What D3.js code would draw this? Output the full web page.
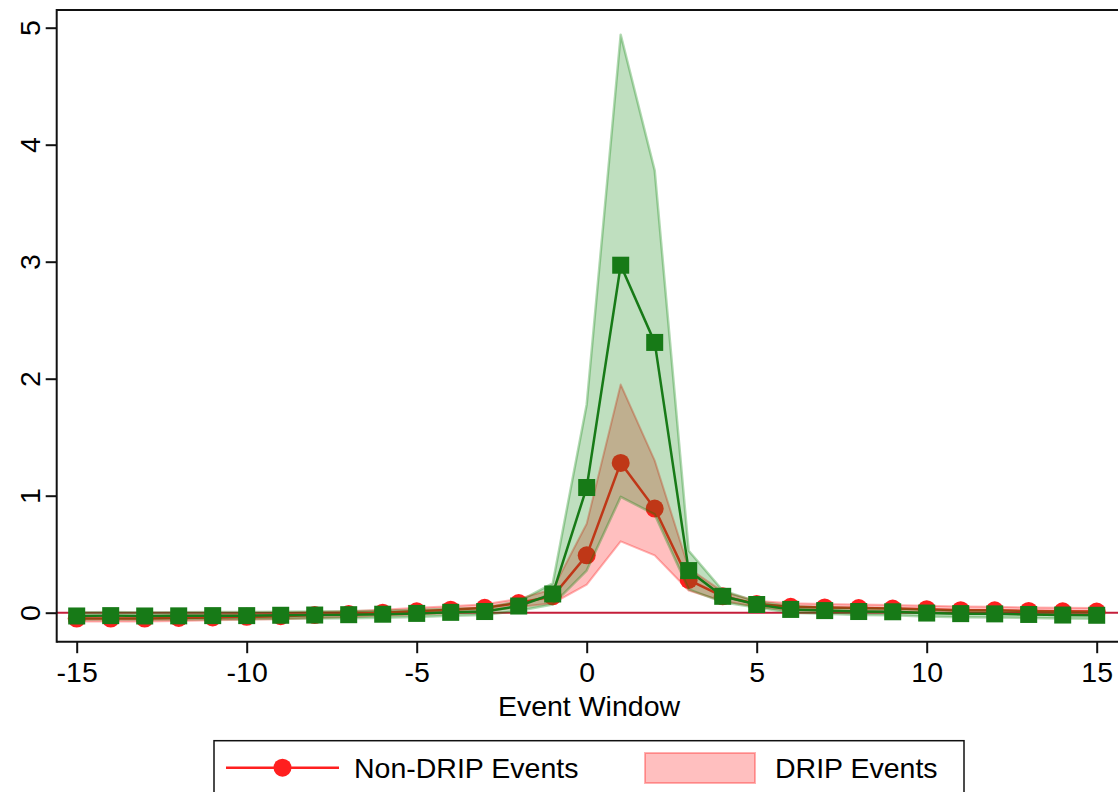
<!DOCTYPE html>
<html>
<head>
<meta charset="utf-8">
<script src="https://cdn.jsdelivr.net/npm/d3@7"></script>
<style>
  html, body { margin: 0; padding: 0; background: #fff; }
  svg { display: block; font-family: "Liberation Sans", Arial, Helvetica, sans-serif; }
</style>
</head>
<body>
<svg id="chart" width="1118" height="792"></svg>
<script>
// ---- data ----
const eventWindow = d3.range(-15, 16);
const nonDripValue = [-0.05,-0.05,-0.05,-0.045,-0.04,-0.035,-0.03,-0.02,-0.012,0.0,0.012,0.026,0.042,0.083,0.14,0.49,1.28,0.89,0.28,0.14,0.075,0.05,0.045,0.04,0.035,0.03,0.022,0.02,0.015,0.012,0.01];
const nonDripLow   = [-0.075,-0.075,-0.075,-0.07,-0.065,-0.06,-0.055,-0.045,-0.037,-0.025,-0.018,-0.004,0.012,0.048,0.08,0.24,0.61,0.49,0.19,0.10,0.05,0.02,0.015,0.01,0.005,0.0,-0.008,-0.01,-0.015,-0.018,-0.02];
const nonDripHigh  = [-0.025,-0.025,-0.025,-0.02,-0.015,-0.01,-0.005,0.005,0.013,0.025,0.042,0.056,0.072,0.118,0.20,0.76,1.95,1.30,0.38,0.18,0.10,0.08,0.075,0.07,0.065,0.06,0.052,0.05,0.045,0.042,0.04];
const dripValue = [-0.028,-0.025,-0.028,-0.027,-0.025,-0.025,-0.022,-0.02,-0.017,-0.013,-0.006,0.003,0.01,0.057,0.16,1.07,2.97,2.31,0.36,0.14,0.07,0.028,0.018,0.01,0.008,-0.003,-0.008,-0.01,-0.015,-0.02,-0.022];
const dripLow   = [-0.058,-0.055,-0.058,-0.057,-0.055,-0.055,-0.052,-0.05,-0.047,-0.043,-0.036,-0.027,-0.02,0.017,0.07,0.36,0.99,0.84,0.20,0.09,0.045,0.0,-0.01,-0.02,-0.022,-0.033,-0.038,-0.04,-0.045,-0.05,-0.052];
const dripHigh  = [0.002,0.005,0.002,0.003,0.005,0.005,0.008,0.01,0.013,0.017,0.024,0.033,0.04,0.097,0.25,1.78,4.94,3.78,0.53,0.19,0.095,0.056,0.046,0.04,0.038,0.027,0.022,0.02,0.015,0.01,0.008];
const xTicks = [-15, -10, -5, 0, 5, 10, 15];
const yTicks = [0, 1, 2, 3, 4, 5];
const xTitle = "Event Window";
const legendLabels = ["Non-DRIP Events", "DRIP Events"];

// ---- build ----
const svg = d3.select("#chart");
const x = d3.scaleLinear().domain([-15, 15]).range([76.7, 1096.7]);
const y = d3.scaleLinear().domain([0, 5]).range([612.7, 27.7]);
const axisY = 641.7, axisX = 56.7;
const fontSize = 28.5;

const red = "#ff1f1f";
const green = "#177a17";
const axisColor = "#111";

const rows = eventWindow.map((e, i) => ({
  e, nv: nonDripValue[i], nl: nonDripLow[i], nh: nonDripHigh[i],
  dv: dripValue[i], dl: dripLow[i], dh: dripHigh[i]
}));

// top frame line
svg.append("line").attr("x1", axisX).attr("x2", 1118).attr("y1", 10).attr("y2", 10)
  .attr("stroke", axisColor).attr("stroke-width", 2);

// zero reference line
svg.append("line").attr("x1", axisX).attr("x2", 1118).attr("y1", y(0)).attr("y2", y(0))
  .attr("stroke", "#c41e3a").attr("stroke-width", 2);

// red band
const redArea = d3.area().x(d => x(d.e)).y0(d => y(d.nl)).y1(d => y(d.nh));
svg.append("path").datum(rows).attr("d", redArea)
  .attr("fill", "rgba(255,0,0,0.25)")
  .attr("stroke", "rgba(255,0,0,0.3)").attr("stroke-width", 2).attr("stroke-linejoin", "round");

// red line & markers
svg.append("path").datum(rows)
  .attr("d", d3.line().x(d => x(d.e)).y(d => y(d.nv)))
  .attr("fill", "none").attr("stroke", red).attr("stroke-width", 2.5);
svg.append("g").selectAll("circle").data(rows).join("circle")
  .attr("cx", d => x(d.e)).attr("cy", d => y(d.nv)).attr("r", 9).attr("fill", red);

// green band
const greenArea = d3.area().x(d => x(d.e)).y0(d => y(d.dl)).y1(d => y(d.dh));
svg.append("path").datum(rows).attr("d", greenArea)
  .attr("fill", "rgba(0,128,0,0.25)")
  .attr("stroke", "rgba(0,128,0,0.3)").attr("stroke-width", 2.5).attr("stroke-linejoin", "round");

// green line & markers
svg.append("path").datum(rows)
  .attr("d", d3.line().x(d => x(d.e)).y(d => y(d.dv)))
  .attr("fill", "none").attr("stroke", green).attr("stroke-width", 2.5);
const sq = 17;
svg.append("g").selectAll("rect").data(rows).join("rect")
  .attr("x", d => x(d.e) - sq / 2).attr("y", d => y(d.dv) - sq / 2)
  .attr("width", sq).attr("height", sq).attr("fill", green);

// x axis
const xAxisG = svg.append("g").attr("transform", `translate(0,${axisY})`)
  .call(d3.axisBottom(x).tickValues(xTicks).tickSize(11.5).tickPadding(9).tickFormat(d3.format("d")));
xAxisG.select(".domain").remove();
xAxisG.selectAll(".tick line").attr("stroke", axisColor).attr("stroke-width", 2);
xAxisG.selectAll(".tick text").attr("fill", "#000").attr("font-size", fontSize)
  .attr("font-family", "Liberation Sans, Arial, sans-serif")
  .text(d => d < 0 ? "-" + Math.abs(d) : d);
svg.append("line").attr("x1", axisX).attr("x2", 1118).attr("y1", axisY).attr("y2", axisY)
  .attr("stroke", axisColor).attr("stroke-width", 2);

// y axis
const yAxisG = svg.append("g").attr("transform", `translate(${axisX},0)`)
  .call(d3.axisLeft(y).tickValues(yTicks).tickSize(11).tickFormat(d3.format("d")));
yAxisG.select(".domain").remove();
yAxisG.selectAll(".tick line").attr("stroke", axisColor).attr("stroke-width", 2);
yAxisG.selectAll(".tick text")
  .attr("fill", "#000").attr("font-size", fontSize)
  .attr("font-family", "Liberation Sans, Arial, sans-serif")
  .attr("x", 0).attr("y", 0).attr("dy", null)
  .attr("text-anchor", "middle")
  .attr("transform", "translate(-17,0) rotate(-90)");
svg.append("line").attr("x1", axisX).attr("x2", axisX).attr("y1", 9).attr("y2", axisY + 1)
  .attr("stroke", axisColor).attr("stroke-width", 2);

// x title
svg.append("text").attr("x", 589).attr("y", 716).attr("text-anchor", "middle")
  .attr("font-size", fontSize).attr("fill", "#000").text(xTitle);

// legend
const lg = svg.append("g");
lg.append("rect").attr("x", 214).attr("y", 740.7).attr("width", 750).attr("height", 70)
  .attr("fill", "#fff").attr("stroke", axisColor).attr("stroke-width", 1.5);
lg.append("line").attr("x1", 226).attr("x2", 339).attr("y1", 767.7).attr("y2", 767.7)
  .attr("stroke", red).attr("stroke-width", 2.5);
lg.append("circle").attr("cx", 282.5).attr("cy", 767.7).attr("r", 9).attr("fill", red);
lg.append("text").attr("x", 354).attr("y", 778).attr("font-size", fontSize).attr("fill", "#000").text(legendLabels[0]);
lg.append("rect").attr("x", 645).attr("y", 753).attr("width", 110).attr("height", 30)
  .attr("fill", "rgba(255,0,0,0.25)").attr("stroke", "rgba(255,0,0,0.3)").attr("stroke-width", 2);
lg.append("text").attr("x", 775).attr("y", 778).attr("font-size", fontSize).attr("fill", "#000").text(legendLabels[1]);
</script>
</body>
</html>
